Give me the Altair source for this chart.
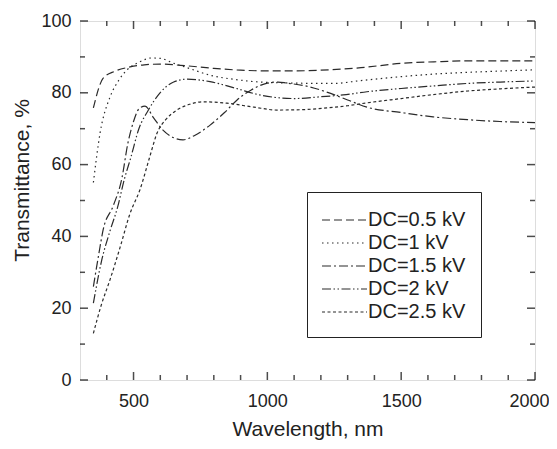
import altair as alt
import pandas as pd

series_names = ["DC=0.5 kV", "DC=1 kV", "DC=1.5 kV", "DC=2 kV", "DC=2.5 kV"]

wl_05 = [350, 386, 430, 487, 540, 599, 700, 800, 900, 1000, 1100, 1200, 1350, 1500, 1650, 1750, 1850, 2000]
t_05 = [75.8, 84, 86, 87.2, 87.8, 88, 87.5, 86.8, 86.3, 86.1, 86.1, 86.3, 87, 88.2, 88.7, 88.9, 88.9, 88.9]

wl_1 = [350, 375, 412, 445, 476, 520, 569, 600, 647, 700, 786, 880, 972, 1100, 1245, 1350, 1500, 1619, 1750, 1850, 2000]
t_1 = [55, 68.8, 78.8, 83.5, 86.4, 88.5, 89.7, 89.6, 88.3, 87, 84.9, 83.7, 83, 82.7, 82.6, 83.4, 84.5, 85.2, 85.7, 86.0, 86.4]

wl_15 = [350, 370, 387, 424, 456, 479, 500, 520, 543, 575, 610, 650, 685, 730, 786, 840, 887, 940, 1000, 1040, 1073, 1150, 1222, 1300, 1372, 1500, 1619, 1750, 1869, 2000]
t_15 = [26, 35, 42, 48.5, 56, 66, 72, 75.5, 76.3, 73, 69.6, 67.5, 66.9, 68.2, 71, 74.5, 78, 80.8, 82.7, 83, 82.7, 81.8, 80.2, 78, 76, 74.5, 73.3, 72.5, 72, 71.7]

wl_2 = [350, 380, 412, 440, 466, 490, 520, 554, 599, 650, 700, 786, 880, 972, 1100, 1200, 1283, 1372, 1500, 1620, 1746, 1870, 2000]
t_2 = [21.4, 33, 41.5, 48, 56, 62, 70, 75, 80, 83, 83.8, 83.1, 81.3, 79.4, 78.4, 78.9, 79.4, 80.3, 81.2, 81.9, 82.6, 83.0, 83.3]

wl_25 = [350, 380, 412, 450, 487, 524, 560, 588, 620, 662, 710, 760, 849, 950, 1036, 1130, 1222, 1300, 1372, 1500, 1620, 1750, 1870, 2000]
t_25 = [13, 21, 27.9, 37, 46.4, 53, 62, 68.8, 72.5, 75.2, 76.8, 77.5, 77.1, 76, 75.2, 75.3, 75.8, 76.4, 77.2, 78.4, 79.5, 80.5, 81.1, 81.6]

x_major = [500, 1000, 1500, 2000]
x_minor = [v for v in range(400, 2000, 100) if v not in x_major]
y_major = [0, 20, 40, 60, 80, 100]
y_minor = [10, 30, 50, 70, 90]

dash_styles = [[8, 4], [1.5, 3.5], [9, 3, 2, 3], [9, 2.5, 1.5, 2.5, 1.5, 2.5], [3, 2.5]]

rows = []
for name, wl, tt in zip(series_names, [wl_05, wl_1, wl_15, wl_2, wl_25], [t_05, t_1, t_15, t_2, t_25]):
    for a, b in zip(wl, tt):
        rows.append({"wl": a, "T": b, "series": name})
df = pd.DataFrame(rows)

FONT = "Liberation Sans"
W, H = 455, 359
xscale = alt.Scale(domain=[300, 2000], nice=False, zero=False)
yscale = alt.Scale(domain=[0, 100], nice=False)

lines = alt.Chart(df).mark_line(interpolate="monotone", color="#2a2a2a", strokeWidth=1.2).encode(
    x=alt.X("wl:Q", scale=xscale, axis=alt.Axis(
        orient="bottom", values=x_major, ticks=False, domain=False, grid=False, format="d",
        labelFlush=True, labelFlushOffset=14, title="Wavelength, nm", labelFontSize=18, titleFontSize=21,
        labelFont=FONT, titleFont=FONT, labelPadding=12, titleY=55, titleBaseline="alphabetic",
        labelColor="#222222", titleColor="#222222", titleFontWeight="normal")),
    y=alt.Y("T:Q", scale=yscale, axis=alt.Axis(
        orient="left", values=y_major, ticks=False, domain=False, grid=False, format="d",
        labelFlush=False, title="Transmittance, %", labelFontSize=18, titleFontSize=21,
        labelFont=FONT, titleFont=FONT, labelPadding=9, titleX=-48, titleY=159,
        labelColor="#222222", titleColor="#222222", titleFontWeight="normal")),
    strokeDash=alt.StrokeDash("series:N", scale=alt.Scale(domain=series_names, range=dash_styles),
        sort=series_names,
        legend=alt.Legend(orient="none", legendX=227, legendY=171, title=None,
                          symbolType="M-1.083,0H2.667", symbolSize=576,
                          symbolStrokeWidth=1.2, symbolStrokeColor="#2a2a2a",
                          symbolFillColor="transparent",
                          labelFontSize=20, labelFont=FONT, labelColor="#222222", padding=15,
                          strokeColor="#222222", labelOffset=20, rowPadding=0)),
)

def xticks(vals, size, ypos):
    return alt.Chart(pd.DataFrame({"wl": vals})).mark_tick(
        color="black", thickness=1.5, size=size).encode(
        x=alt.X("wl:Q", scale=xscale), y=alt.value(ypos))

def yticks(vals, size, xpos):
    return alt.Chart(pd.DataFrame({"T": vals})).mark_tick(
        color="black", thickness=1.5, size=size).encode(
        y=alt.Y("T:Q", scale=yscale), x=alt.value(xpos))

chart = alt.layer(
    lines,
    xticks(x_major, 8, H - 4), xticks(x_minor, 5, H - 2.5),
    xticks(x_major, 8, 4), xticks(x_minor, 5, 2.5),
    yticks(y_major, 8, 4), yticks(y_minor, 5, 2.5),
    yticks(y_major, 8, W - 4), yticks(y_minor, 5, W - 2.5),
).properties(
    width=W, height=H,
    autosize=alt.AutoSizeParams(type="none"),
    padding={"left": 72, "top": 13, "right": 14, "bottom": 61},
).configure_view(stroke="black", strokeWidth=2).configure(background="white")

chart.save("out.html", embed_options={"renderer": "svg", "actions": False})
